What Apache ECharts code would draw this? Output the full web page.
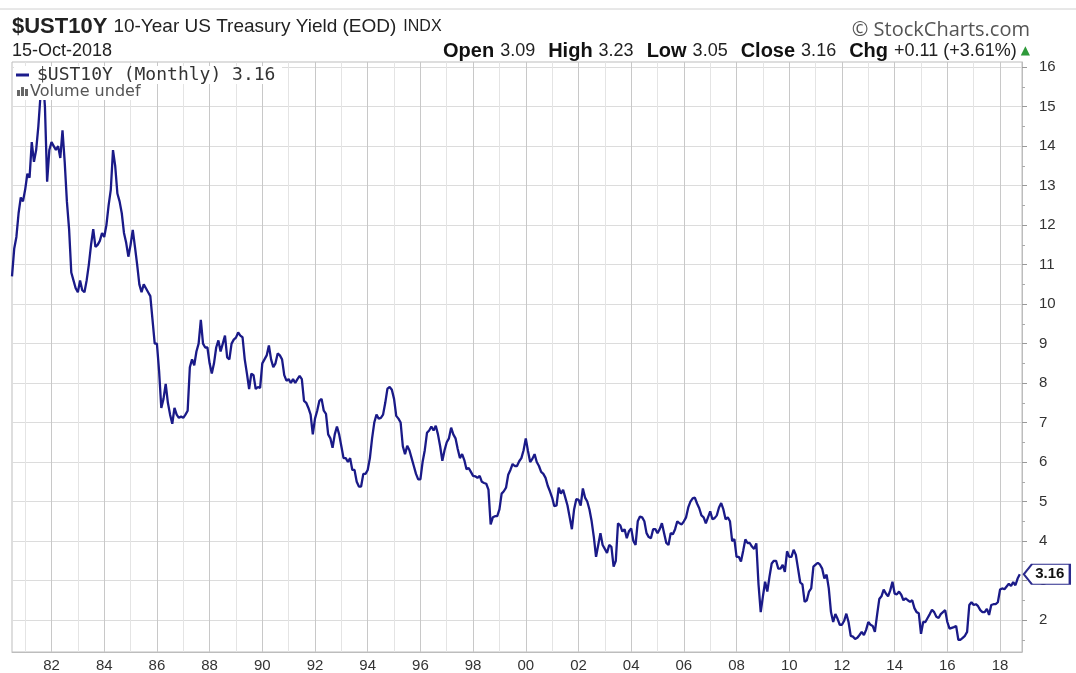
<!DOCTYPE html>
<html>
<head>
<meta charset="utf-8">
<script src="https://cdn.jsdelivr.net/npm/echarts@6/dist/echarts.min.js"></script>
<style>
  html, body { margin: 0; padding: 0; background: #fff; }
  #chart { width: 1076px; height: 673px; }
</style>
</head>
<body>
<div id="chart"></div>
<script>
// monthly closes, $UST10Y, Jul 1980 .. Oct 2018
const startYear = 1980;
const startMonth = 7;
const y1980 = [10.7, 11.4, 11.7, 12.3, 12.7, 12.6];
const y1981 = [12.9, 13.3, 13.2, 14.1, 13.6, 13.9, 14.5, 15.3, 15.8, 15.0, 13.1, 13.9];
const y1982 = [14.1, 14.0, 13.9, 14.0, 13.7, 14.4, 13.6, 12.6, 11.9, 10.8, 10.6, 10.4];
const y1983 = [10.3, 10.6, 10.35, 10.3, 10.6, 11.0, 11.5, 11.9, 11.45, 11.5, 11.6, 11.8];
const y1984 = [11.7, 12.0, 12.5, 12.9, 13.9, 13.5, 12.8, 12.6, 12.3, 11.8, 11.55, 11.2];
const y1985 = [11.5, 11.88, 11.45, 11.0, 10.5, 10.3, 10.5, 10.4, 10.3, 10.2, 9.6, 9.0];
const y1986 = [9.0, 8.3, 7.37, 7.6, 7.98, 7.5, 7.2, 6.97, 7.37, 7.2, 7.12, 7.15];
const y1987 = [7.12, 7.2, 7.3, 8.4, 8.6, 8.45, 8.8, 9.0, 9.6, 9.0, 8.9, 8.9];
const y1988 = [8.5, 8.24, 8.5, 8.9, 9.08, 8.8, 9.0, 9.2, 8.65, 8.6, 9.0, 9.1];
const y1989 = [9.15, 9.28, 9.2, 9.16, 8.6, 8.24, 7.85, 8.24, 8.2, 7.85, 7.9, 7.88];
const y1990 = [8.5, 8.6, 8.7, 8.95, 8.6, 8.4, 8.5, 8.75, 8.7, 8.6, 8.2, 8.06];
const y1991 = [8.1, 8.0, 8.1, 8.0, 8.1, 8.18, 8.1, 7.55, 7.5, 7.37, 7.2, 6.7];
const y1992 = [7.1, 7.3, 7.55, 7.6, 7.3, 7.22, 6.7, 6.6, 6.36, 6.7, 6.9, 6.7];
const y1993 = [6.4, 6.1, 6.1, 6.0, 6.1, 5.8, 5.8, 5.5, 5.38, 5.38, 5.7, 5.7];
const y1994 = [5.8, 6.1, 6.6, 7.0, 7.2, 7.1, 7.12, 7.2, 7.5, 7.86, 7.9, 7.83];
const y1995 = [7.6, 7.17, 7.1, 7.0, 6.4, 6.2, 6.41, 6.3, 6.1, 5.9, 5.7, 5.56];
const y1996 = [5.56, 6.0, 6.3, 6.74, 6.8, 6.9, 6.8, 6.92, 6.7, 6.4, 6.03, 6.3];
const y1997 = [6.5, 6.6, 6.87, 6.7, 6.6, 6.33, 6.1, 6.2, 6.05, 5.82, 5.85, 5.75];
const y1998 = [5.65, 5.64, 5.6, 5.65, 5.5, 5.47, 5.45, 5.3, 4.42, 4.6, 4.63, 4.63];
const y1999 = [4.8, 5.2, 5.26, 5.35, 5.68, 5.8, 5.95, 5.9, 5.9, 6.02, 6.1, 6.3];
const y2000 = [6.6, 6.28, 6.0, 6.08, 6.2, 6.0, 5.9, 5.75, 5.7, 5.6, 5.4, 5.26];
const y2001 = [5.1, 4.88, 4.9, 5.35, 5.2, 5.3, 5.1, 4.9, 4.6, 4.3, 4.8, 5.06];
const y2002 = [5.05, 4.9, 5.33, 5.1, 5.0, 4.8, 4.5, 4.1, 3.6, 3.9, 4.2, 3.9];
const y2003 = [3.8, 3.7, 3.9, 3.85, 3.35, 3.5, 4.45, 4.4, 4.24, 4.3, 4.07, 4.25];
const y2004 = [4.32, 4.0, 3.9, 4.5, 4.62, 4.6, 4.5, 4.2, 4.1, 4.07, 4.3, 4.3];
const y2005 = [4.2, 4.3, 4.45, 4.2, 3.95, 3.9, 4.2, 4.17, 4.3, 4.5, 4.45, 4.42];
const y2006 = [4.5, 4.6, 4.85, 5.0, 5.08, 5.1, 4.95, 4.83, 4.65, 4.6, 4.45, 4.6];
const y2007 = [4.75, 4.55, 4.58, 4.65, 4.85, 4.96, 4.8, 4.55, 4.6, 4.5, 4.0, 4.05];
const y2008 = [3.6, 3.6, 3.48, 3.75, 4.04, 3.95, 3.95, 3.86, 3.8, 3.94, 2.9, 2.2];
const y2009 = [2.6, 2.97, 2.72, 3.1, 3.43, 3.5, 3.5, 3.3, 3.3, 3.4, 3.22, 3.74];
const y2010 = [3.6, 3.6, 3.78, 3.65, 3.3, 2.95, 2.9, 2.46, 2.5, 2.72, 2.8, 3.35];
const y2011 = [3.4, 3.45, 3.4, 3.3, 3.05, 3.15, 2.8, 2.2, 1.95, 2.15, 2.03, 1.88];
const y2012 = [1.88, 1.98, 2.16, 1.95, 1.6, 1.58, 1.52, 1.55, 1.62, 1.7, 1.62, 1.75];
const y2013 = [1.95, 1.88, 1.85, 1.7, 2.13, 2.53, 2.6, 2.77, 2.67, 2.6, 2.75, 2.97];
const y2014 = [2.67, 2.65, 2.72, 2.64, 2.5, 2.55, 2.5, 2.46, 2.5, 2.3, 2.2, 2.17];
const y2015 = [1.65, 1.95, 1.95, 2.05, 2.15, 2.26, 2.2, 2.08, 2.05, 2.15, 2.2, 2.25];
const y2016 = [1.95, 1.78, 1.8, 1.82, 1.85, 1.5, 1.5, 1.55, 1.6, 1.7, 2.38, 2.45];
const y2017 = [2.38, 2.4, 2.35, 2.25, 2.2, 2.2, 2.28, 2.13, 2.38, 2.4, 2.4, 2.45];
const y2018 = [2.77, 2.8, 2.78, 2.85, 2.92, 2.86, 2.96, 2.88, 3.05, 3.16];

const closes = [].concat(y1980, y1981, y1982, y1983, y1984, y1985, y1986, y1987,
  y1988, y1989, y1990, y1991, y1992, y1993, y1994, y1995, y1996, y1997, y1998,
  y1999, y2000, y2001, y2002, y2003, y2004, y2005, y2006, y2007, y2008, y2009,
  y2010, y2011, y2012, y2013, y2014, y2015, y2016, y2017, y2018);

// right axis labels, and one empty month of room after the last close
const yLabels = [2, 3, 4, 5, 6, 7, 8, 9, 10, 11, 12, 13, 14, 15, 16];
const yMinor = [1.5, 2.5, 3.5, 4.5, 5.5, 6.5, 7.5, 8.5, 9.5, 10.5, 11.5, 12.5, 13.5, 14.5, 15.5];
const padMonths = 1;

let months = [];
for (let i = 0; i < closes.length + padMonths; i++) {
  let m = startMonth - 1 + i;
  let yr = startYear + Math.floor(m / 12);
  let mm = (m % 12) + 1;
  months.push(yr + "-" + (mm < 10 ? "0" + mm : mm));
}
const lastMonth = months[closes.length - 1];
const lastClose = closes[closes.length - 1];

function isJan(v) {
  return v.slice(5) === "01";
}

let chart = echarts.init(document.getElementById("chart"));
let option = {
  animation: false,
  grid: {
    left: 12,
    right: 54,
    top: 62,
    bottom: 21,
    show: true,
    borderColor: "#bdbdbd",
    borderWidth: 1,
  },
  xAxis: [
    {
      type: "category",
      data: months,
      boundaryGap: false,
      axisLine: { show: true, lineStyle: { color: "#bdbdbd" } },
      axisTick: { show: false },
      axisLabel: {
        interval: function (idx, v) {
          return isJan(v) && parseInt(v.slice(0, 4)) % 2 === 0;
        },
        formatter: function (v) {
          return v.slice(2, 4);
        },
        fontFamily: "Liberation Sans",
        fontSize: 15,
        color: "#333",
        margin: 6,
      },
      splitLine: {
        show: true,
        interval: function (idx, v) {
          return isJan(v);
        },
        // odd years light, even (labelled) years darker
        lineStyle: { color: ["#e4e4e4", "#c8c8c8"], width: 1 },
      },
    },
  ],
  yAxis: [
    {
      type: "value",
      position: "right",
      min: 1.19,
      max: 16.13,
      axisLine: { show: true, lineStyle: { color: "#bdbdbd" } },
      axisTick: {
        show: true,
        length: 5,
        customValues: yLabels,
        lineStyle: { color: "#999" },
      },
      axisLabel: {
        customValues: yLabels,
        fontFamily: "Liberation Sans",
        fontSize: 15,
        color: "#333",
        margin: 17,
      },
      splitLine: { show: true, lineStyle: { color: "#dcdcdc" } },
    },
    {
      type: "value",
      position: "right",
      min: 1.19,
      max: 16.13,
      axisLine: { show: false },
      axisTick: {
        show: true,
        length: 3,
        customValues: yMinor,
        lineStyle: { color: "#aaa" },
      },
      axisLabel: { show: false },
      splitLine: { show: false },
    },
  ],
  graphic: [
    {
      type: "line",
      shape: { x1: 0, y1: 9, x2: 1076, y2: 9 },
      style: { stroke: "#d0d0d0", lineWidth: 1 },
    },
    {
      type: "text",
      x: 12,
      y: 27,
      style: {
        text: "{a|$UST10Y}{b|10-Year US Treasury Yield (EOD)}{c|INDX}",
        verticalAlign: "middle",
        rich: {
          a: { fontFamily: "Liberation Sans", fontWeight: "bold", fontSize: 22, fill: "#222" },
          b: { fontFamily: "Liberation Sans", fontSize: 19, fill: "#222", padding: [0, 0, 0, 6] },
          c: { fontFamily: "Liberation Sans", fontSize: 16, fill: "#222", padding: [0, 0, 0, 7] },
        },
      },
    },
    {
      type: "text",
      x: 12,
      y: 51,
      style: {
        text: "15-Oct-2018",
        fontFamily: "Liberation Sans",
        fontSize: 18,
        fill: "#222",
        verticalAlign: "middle",
      },
    },
    {
      type: "text",
      x: 1030,
      y: 30,
      style: {
        text: "\u00a9 StockCharts.com",
        fontFamily: "Open Sans",
        fontSize: 20,
        fill: "#555",
        align: "right",
        verticalAlign: "middle",
      },
    },
    {
      type: "text",
      x: 1030,
      y: 51,
      style: {
        text:
          "{b|Open}{v|3.09}{c|High}{v|3.23}{c|Low}{v|3.05}{c|Close}{v|3.16}{c|Chg}{v|+0.11 (+3.61%)}{g|\u25b2}",
        align: "right",
        verticalAlign: "middle",
        rich: {
          b: { fontFamily: "Liberation Sans", fontWeight: "bold", fontSize: 20, fill: "#111" },
          c: { fontFamily: "Liberation Sans", fontWeight: "bold", fontSize: 20, fill: "#111", padding: [0, 0, 0, 13] },
          v: { fontFamily: "Liberation Sans", fontSize: 18, fill: "#222", padding: [0, 0, 0, 6] },
          g: { fontFamily: "DejaVu Sans", fontSize: 12, fill: "#2e9a3a", padding: [0, 0, 0, 4] },
        },
      },
    },
    // legend, drawn on white so the 1981 peak hides behind it
    {
      type: "rect",
      z: 10,
      shape: { x: 14, y: 66, width: 268, height: 18 },
      style: { fill: "#fff" },
    },
    {
      type: "rect",
      z: 10,
      shape: { x: 14, y: 84, width: 136, height: 16 },
      style: { fill: "#fff" },
    },
    {
      type: "line",
      z: 11,
      shape: { x1: 16, y1: 75, x2: 29, y2: 75 },
      style: { stroke: "#1c1c8c", lineWidth: 3 },
    },
    {
      type: "text",
      z: 11,
      x: 37,
      y: 75,
      style: {
        text: "$UST10Y (Monthly) 3.16",
        fontFamily: "DejaVu Sans Mono",
        fontSize: 18,
        fill: "#333",
        verticalAlign: "middle",
      },
    },
    // small volume-bars icon
    { type: "rect", z: 11, shape: { x: 17, y: 90, width: 3, height: 6 }, style: { fill: "#666" } },
    { type: "rect", z: 11, shape: { x: 21, y: 87, width: 3, height: 9 }, style: { fill: "#666" } },
    { type: "rect", z: 11, shape: { x: 25, y: 89, width: 3, height: 7 }, style: { fill: "#666" } },
    {
      type: "text",
      z: 11,
      x: 30,
      y: 92,
      style: {
        text: "Volume undef",
        fontFamily: "DejaVu Sans",
        fontSize: 16,
        fill: "#555",
        verticalAlign: "middle",
      },
    },
  ],
  series: [
    {
      name: "$UST10Y",
      type: "line",
      data: closes,
      showSymbol: false,
      symbol: "none",
      lineStyle: { color: "#1a1a88", width: 2.3 },
      markPoint: {
        symbol: "path://M0,10 L8,0 L46,0 L46,20 L8,20 Z",
        symbolSize: [46, 20],
        symbolOffset: [27, 0],
        itemStyle: { color: "#fff", borderColor: "#2a2a8c", borderWidth: 1.6 },
        label: {
          show: true,
          position: "inside",
          offset: [3, 0],
          fontFamily: "Liberation Sans",
          fontWeight: "bold",
          fontSize: 15,
          color: "#111",
          formatter: function (p) {
            return p.value.toFixed(2);
          },
        },
        data: [{ coord: [lastMonth, lastClose], value: lastClose }],
      },
    },
  ],
};
chart.setOption(option);
</script>
</body>
</html>
